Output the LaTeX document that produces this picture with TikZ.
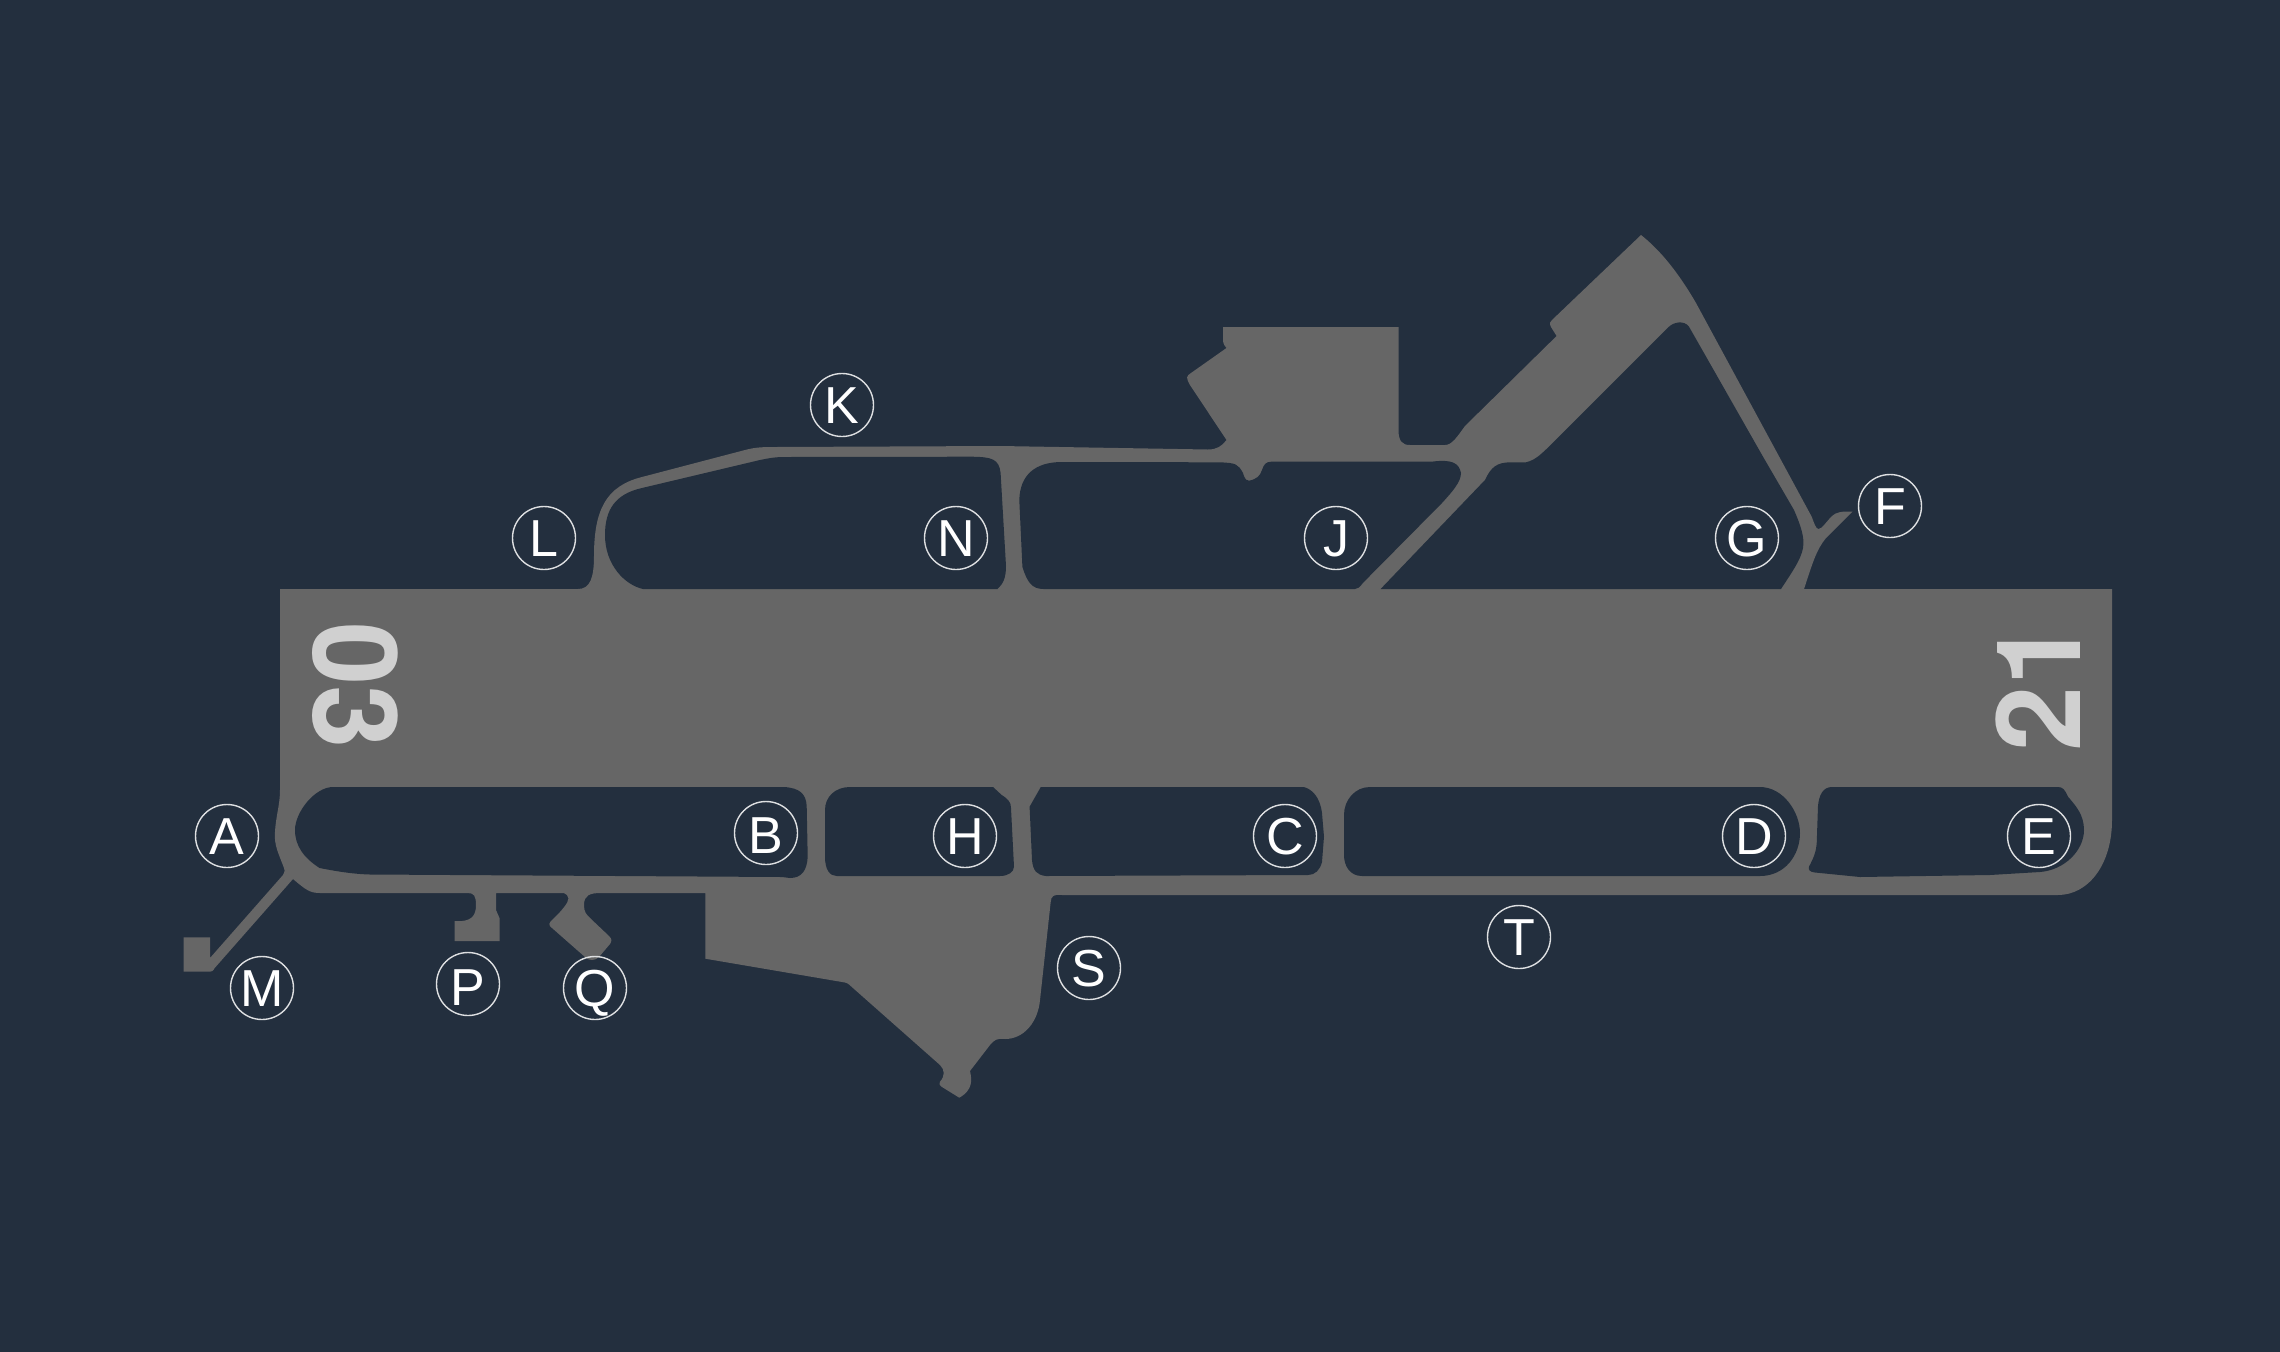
\documentclass[tikz,border=0pt]{standalone}
\usepackage{fontspec}
\setmainfont{Liberation Sans}
\newfontfamily\markfont{TeX Gyre Heros}
\definecolor{ground}{HTML}{232F3E}
\definecolor{field}{HTML}{666666}
\definecolor{marking}{HTML}{D0D0D0}
\tikzset{
  taxiway/.style={circle, draw=white!85!ground, line width=0.14mm, minimum size=6.3mm, inner sep=0pt,
    text=white, font=\fontsize{14.8pt}{14.8pt}\selectfont, text height=3.7mm, text depth=0pt},
  runwayend/.style={text=marking, inner sep=0pt, font=\markfont\fontsize{33.3pt}{33.3pt}\selectfont\bfseries},
  grass/.style={fill=ground}
}
\begin{document}
\begin{tikzpicture}[x=0.1mm, y=-0.1mm]
\useasboundingbox (0,0) rectangle (2280,1352);
\fill[ground] (0,0) rectangle (2280,1352);

% runway and taxiways
\fill[field]
  (280,589) -- (578,589) .. controls (590,589) and (594,578) .. (594,556)
  .. controls (594,510) and (606,486) .. (642,477)
  -- (745,450) .. controls (755,447.5) and (760,447) .. (775,447)
  -- (1000,446) -- (1208,449.5) .. controls (1217,449.5) and (1222,446) .. (1226.5,440)
  -- (1190,385) .. controls (1186,378) and (1186,376) .. (1191,373)
  -- (1226.5,348) .. controls (1223,344) and (1223,342) .. (1223,338) -- (1223,327)
  -- (1398.5,327) -- (1398.5,430) .. controls (1398.5,441) and (1402,445) .. (1410,445)
  -- (1445,445) .. controls (1452,445) and (1457,437) .. (1465,426)
  -- (1556.6,336) -- (1551,327) .. controls (1549,323) and (1550,322) .. (1552,320) -- (1641,235)
  .. controls (1660,250) and (1678,272) .. (1696,303)
  -- (1811.7,516.7) .. controls (1814,523) and (1816,529) .. (1818.4,529)
  .. controls (1822,529) and (1826,522) .. (1832,516)
  .. controls (1836,512) and (1843,511) .. (1852.5,511.7)
  -- (1826,538) .. controls (1816,550) and (1812,565) .. (1804,589)
  -- (2112,589) -- (2112,820) .. controls (2112,865) and (2088,895) .. (2058,895)
  -- (1062,895) .. controls (1054,894) and (1051,896) .. (1050.7,902)
  -- (1040,1000) .. controls (1038,1022) and (1024,1039) .. (1005,1039)
  .. controls (997,1038) and (994,1040) .. (990,1045)
  -- (970,1071) .. controls (972,1080) and (973,1090) .. (959.3,1097.7)
  -- (942,1087) .. controls (939,1085) and (939,1083) .. (940,1081.7)
  .. controls (945,1076) and (945,1070) .. (940,1065) -- (849,984.5)
  .. controls (848,983.5) and (847,983) .. (845,982.5)
  -- (705.3,958.7) -- (705.3,893)
  -- (601,893) .. controls (590,893) and (584,895) .. (584,905)
  .. controls (584,912) and (586,914) .. (590,918) -- (609,936)
  .. controls (612,939) and (612,941) .. (610,944) -- (599,957)
  .. controls (595,961) and (589,961) .. (585,957) -- (552,928)
  .. controls (548,925) and (549,923) .. (552,920) -- (560,912)
  .. controls (566,905) and (571,899) .. (567,895) .. controls (566,893) and (563,893) .. (560,893)
  -- (496,893) -- (496,910) -- (499.5,918) -- (499.5,941) -- (454.5,941) -- (454.5,921)
  -- (462,921) .. controls (472,920) and (476,915) .. (476,905)
  .. controls (476,896) and (474,893) .. (468,893)
  -- (320,893) .. controls (310,893) and (306,890) .. (293,879)
  -- (214.7,968) .. controls (213,971) and (212,971.7) .. (210,971.7)
  -- (183.5,971.7) -- (183.5,937.3) -- (210,937.3) -- (210,958)
  -- (283,875) .. controls (285,871) and (285,870) .. (284,868)
  .. controls (278,852) and (274,845) .. (275,832) .. controls (276,815) and (280,805) .. (280,790)
  -- cycle;

% infield between runway and taxiways
\fill[grass] (643,589) .. controls (625,585) and (605,565) .. (605,535)
  .. controls (605,510) and (615,494) .. (642,488)
  -- (760,460) .. controls (770,458) and (775,457) .. (785,457)
  -- (972,456.7) .. controls (992,457) and (999,459) .. (1000.6,473)
  -- (1006,566) .. controls (1006,578) and (1003,584) .. (997.5,589) -- cycle;
\fill[grass] (1043.4,589) .. controls (1032,589) and (1027,582) .. (1022.4,566.7)
  -- (1019.3,500) .. controls (1020,475) and (1035,462) .. (1062,462)
  -- (1220,462.3) .. controls (1236,463) and (1238,464) .. (1243,473)
  .. controls (1245,480) and (1247,481) .. (1249,480.7) .. controls (1257,479) and (1260,476) .. (1262,470)
  .. controls (1264,464) and (1266,462) .. (1271,461.7)
  -- (1431.6,461.7) .. controls (1452,459) and (1459,463) .. (1461,473)
  .. controls (1461,482) and (1452,492) .. (1442,503) -- (1362.8,583)
  .. controls (1360,587) and (1358,589) .. (1355,589) -- cycle;
\fill[grass] (1380.6,589) -- (1485,480) .. controls (1491,467) and (1497,462.5) .. (1510,462.3)
  -- (1526,462.3) .. controls (1536,460) and (1542,453) .. (1549,446.7)
  -- (1669,326.7) .. controls (1674,322) and (1684,320) .. (1689,326.7)
  -- (1763,456.7) -- (1794,510) .. controls (1800,524) and (1805,537) .. (1803,548)
  .. controls (1801,560) and (1790,575) .. (1781,589) -- cycle;

% infield south of runway
\fill[grass] (333,787) -- (784,787) .. controls (800,788) and (806,794) .. (806.7,806)
  -- (807.7,856.7) .. controls (807,870) and (802,878) .. (790,878) -- (782,877)
  -- (370,874.5) .. controls (352,874) and (335,871) .. (319.6,868)
  .. controls (304,858) and (295,846) .. (295,830) .. controls (295,812) and (315,787) .. (333,787) -- cycle;
\fill[grass] (850,787) -- (993,787) -- (1001.7,795) .. controls (1008,799) and (1011,802) .. (1011,808) -- (1014,866.7)
  .. controls (1014,872) and (1008,876) .. (1000,876) -- (836.7,876)
  .. controls (830,876) and (825,870) .. (825,856.7) -- (825,810)
  .. controls (825,797) and (835,787) .. (850,787) -- cycle;
\fill[grass] (1040.8,787) -- (1303.6,787) .. controls (1312,789) and (1320,797) .. (1322,813)
  -- (1324,836.7) -- (1322,862) .. controls (1320,870) and (1315,875) .. (1308,875)
  -- (1046,876) .. controls (1037,875) and (1033,871) .. (1032,860) -- (1029.6,806.7) -- cycle;
\fill[grass] (1370,787) -- (1760,787) .. controls (1783,787) and (1800,812) .. (1800,833)
  .. controls (1800,855) and (1785,876) .. (1760,876) -- (1362,876)
  .. controls (1350,876) and (1344,866) .. (1344,855) -- (1344,815)
  .. controls (1344,800) and (1355,787) .. (1370,787) -- cycle;
\fill[grass] (1832,787) -- (2058,787) .. controls (2063,787) and (2065,790) .. (2068,796.7)
  .. controls (2076,806) and (2084,815) .. (2084,830)
  .. controls (2084,850) and (2065,870) .. (2040,872) -- (1990,875) -- (1860,877)
  -- (1815,872.5) .. controls (1810,872) and (1808,870) .. (1809,866.7)
  .. controls (1815,855) and (1817,850) .. (1817,835)
  -- (1818,806) .. controls (1819,795) and (1823,787) .. (1832,787) -- cycle;

\node[runwayend, rotate=-90] (rwythree) at (355,685.5) {\scalebox{0.97}[1]{03}};
\node[runwayend, rotate=90] (rwyone) at (2038,686) {21};

\begin{scope}[every node/.style={taxiway}]
  \node (a) at (227,836) {A};
  \node[text height=4.1mm] (b) at (766,833) {B};
  \node (c) at (1285,836) {C};
  \node (d) at (1754,836) {D};
  \node (e) at (2039,836) {E};
  \node (f) at (1890,506) {F};
  \node (g) at (1747,538) {G};
  \node (h) at (965,836) {H};
  \node (j) at (1336,538) {J};
  \node (k) at (842,405) {K};
  \node (l) at (544,538) {L};
  \node (m) at (262,988) {M};
  \node (n) at (956,538) {N};
  \node[text height=4.3mm] (p) at (468,984) {P};
  \node (q) at (595,988) {Q};
  \node (s) at (1089,968) {S};
  \node (t) at (1519,937) {T};
\end{scope}

\end{tikzpicture}
\end{document}
